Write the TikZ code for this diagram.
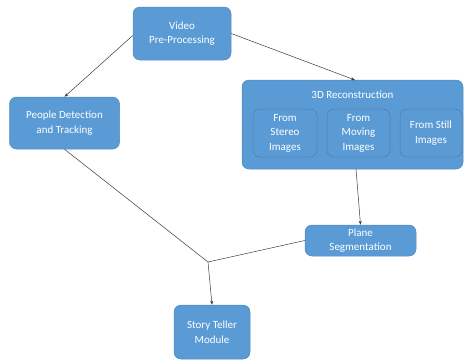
\documentclass[tikz,border=0pt]{standalone}
\usepackage{fontspec}
\setmainfont{Carlito}
\usetikzlibrary{arrows.meta,positioning}
\definecolor{boxblue}{HTML}{5B9BD5}
\definecolor{boxedge}{HTML}{4F89BE}
\definecolor{subedge}{HTML}{4A7FB0}
\definecolor{linec}{HTML}{3A3A3A}
\begin{document}
\begin{tikzpicture}[x=1pt,y=-1pt,
  txt/.style={text=white,align=center,font=\fontsize{11}{14.5}\selectfont},
  box/.style={txt,draw=boxedge,fill=boxblue,rounded corners=7pt,inner sep=0pt,line width=0.5pt},
  subbox/.style={txt,draw=subedge,fill=boxblue,rounded corners=7pt,inner sep=0pt,line width=0.5pt},
  conn/.style={draw=linec,line width=0.5pt},
  arr/.style={conn,-{Stealth[length=4pt,width=3pt]}}]
\useasboundingbox (0,0) rectangle (464,360);
\node[box,minimum width=98pt,minimum height=53pt] (video) at (182,33.5) {Video\\Pre-Processing};
\node[box,minimum width=110pt,minimum height=52pt] (people) at (64.5,123) {People Detection\\and Tracking};
\node[box,minimum width=221pt,minimum height=89pt] (recon) at (352.5,124.5) {};
\node[txt] (recontitle) at (352.5,95) {3D Reconstruction};
\node[subbox,minimum width=64pt,minimum height=48pt] (stereo) at (285,133) {From\\Stereo\\Images};
\node[subbox,minimum width=63pt,minimum height=48pt] (moving) at (358.5,133) {From\\Moving\\Images};
\node[subbox,minimum width=62pt,minimum height=48pt] (still) at (431,133) {From Still\\Images};
\node[box,minimum width=111pt,minimum height=31pt] (plane) at (360.5,240.5) {Plane\\Segmentation};
\node[box,minimum width=76pt,minimum height=54pt] (story) at (212,332) {Story Teller\\Module};
\coordinate (junc) at (208,262);
\draw[arr] (video.west) ++(0,2) coordinate (vw) (vw) -- (people.north);
\draw[arr] (video.east) -- (355,80);
\draw[arr] (356,169) -- (plane.north);
\draw[conn] (people.south) -- (junc);
\draw[conn] (plane.west) -- (junc);
\draw[arr] (junc) -- (story.north);
\end{tikzpicture}
\end{document}
